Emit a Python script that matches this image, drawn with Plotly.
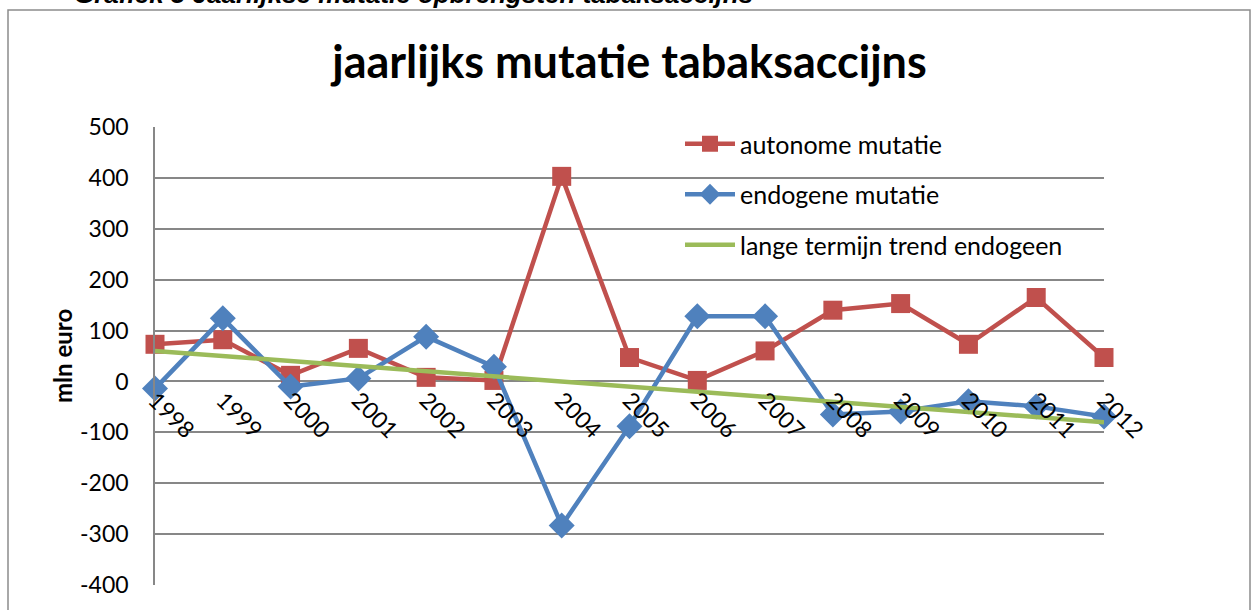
import plotly.graph_objects as go

years = ["1998", "1999", "2000", "2001", "2002", "2003", "2004", "2005",
         "2006", "2007", "2008", "2009", "2010", "2011", "2012"]
autonome = [73, 82, 12, 65, 8, 2, 403, 47, 2, 60, 140, 153, 73, 165, 47]
endogene = [-14, 124, -10, 6, 88, 29, -283, -88, 128, 128, -65, -59, -39, -49, -69]
trend = [60, 50, 40, 30, 20, 10, 0, -10, -20, -30, -40, -50, -60, -70, -80]
y_ticks = [-400, -300, -200, -100, 0, 100, 200, 300, 400, 500]

RED = "#C0504D"
BLUE = "#4F81BD"
GREEN = "#9BBB59"
GRID = "#878787"
FONT = "Lato"

W, H = 1256, 610
# plot area in page pixels: x 155..1104, y 127..585
L, T = 155, 127
R = W - 1104
B = H - 585
pw = W - L - R
ph = H - T - B

def px_x(x):
    return (x - L) / pw

def px_y(y):
    return 1 + (T - y) / ph

fig = go.Figure()
fig.add_trace(go.Scatter(
    x=years, y=autonome, name="autonome mutatie", mode="lines+markers",
    line=dict(color=RED, width=4.5), marker=dict(symbol="square", size=19, color=RED),
    cliponaxis=False, legendgroup="a"))
fig.add_trace(go.Scatter(
    x=years, y=endogene, name="endogene mutatie", mode="lines+markers",
    line=dict(color=BLUE, width=4.5), marker=dict(symbol="diamond", size=20, color=BLUE),
    cliponaxis=False, legendgroup="b"))
fig.add_trace(go.Scatter(
    x=years, y=trend, name="lange termijn trend endogeen", mode="lines",
    line=dict(color=GREEN, width=4.5), cliponaxis=False, legendgroup="c"))

fig.update_layout(
    width=W, height=H,
    margin=dict(l=L, r=R, t=T, b=B),
    paper_bgcolor="white", plot_bgcolor="white",
    font=dict(family=FONT, size=22, color="black"),
    title=dict(text="<b>jaarlijks mutatie tabaksaccijns</b>", x=0.5, xref="paper",
               y=1 - 62 / H, yanchor="middle", xanchor="center",
               font=dict(family=FONT, size=45, color="black")),
    showlegend=True,
    legend=dict(x=px_x(680), y=px_y(121), xanchor="left", yanchor="top",
                bgcolor="rgba(0,0,0,0)", font=dict(family=FONT, size=25),
                tracegroupgap=15, itemwidth=50),
    xaxis=dict(type="category", range=[0, 14], anchor="free",
               position=400 / 900, showgrid=False, showline=False, zeroline=False,
               tickangle=45, tickfont=dict(family=FONT, size=23), ticks=""),
    yaxis=dict(range=[-400, 500], tickvals=y_ticks, ticktext=[str(v) for v in y_ticks],
               showgrid=True, gridcolor=GRID,
               gridwidth=1.5, zeroline=False, showline=True, linecolor=GRID, linewidth=1.5,
               ticks="", ticklabelstandoff=20, tickfont=dict(family=FONT, size=23)),
)

fig.add_annotation(text="<b>mln euro</b>", xref="paper", yref="paper",
                   x=px_x(62), y=0.5, textangle=-90, showarrow=False,
                   xanchor="center", yanchor="middle",
                   font=dict(family=FONT, size=24, color="black"))

fig.add_annotation(text="<b><i>Grafiek 3 Jaarlijkse mutatie opbrengsten tabaksaccijns</i></b>",
                   xref="paper", yref="paper", x=px_x(413), y=px_y(11),
                   xanchor="center", yanchor="bottom", showarrow=False,
                   font=dict(family="Liberation Sans", size=26, color="black"))

fig.add_shape(type="rect", xref="paper", yref="paper",
              x0=px_x(8), x1=px_x(1250), y0=px_y(640), y1=px_y(10),
              line=dict(color="#8C8C8C", width=1.5), layer="below")

fig.write_html("out.html", config={"displayModeBar": False},
               post_script="document.body.style.margin='0';")
